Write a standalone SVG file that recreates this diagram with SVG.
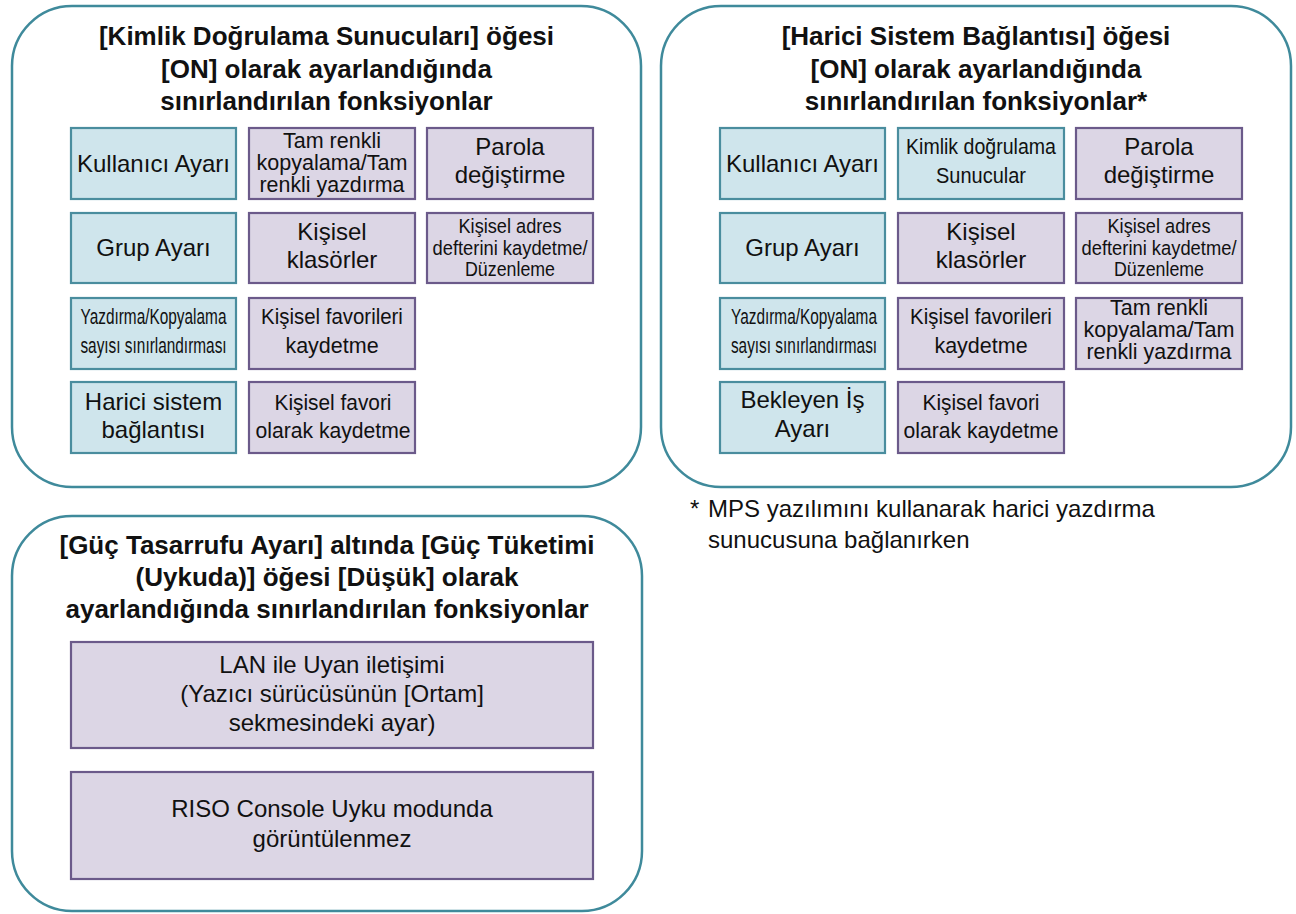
<svg xmlns="http://www.w3.org/2000/svg" width="1296" height="914" viewBox="0 0 1296 914">
<style>
.panel{fill:#ffffff;stroke:#3f8a9b;stroke-width:2.5}
.cy{fill:#cfe5ec;stroke:#4a8d9e;stroke-width:2.2}
.pu{fill:#dcd6e5;stroke:#6b5a8a;stroke-width:2.2}
text{font-family:"Liberation Sans",Arial,sans-serif;fill:#111;text-anchor:middle}
.t{font-size:26px;font-weight:bold}
.b{font-size:24px}
.m{font-size:21.5px}
.s{font-size:22px}
.a{font-size:20.5px}
.fn{font-size:24px;text-anchor:start}
</style>
<rect width="1296" height="914" fill="#ffffff"/>

<g id="panel-left">
<rect class="panel" x="12" y="6" width="629" height="481" rx="60" ry="60"/>
<text class="t" x="326.5" y="45">[Kimlik Doğrulama Sunucuları] öğesi</text>
<text class="t" x="326.5" y="78">[ON] olarak ayarlandığında</text>
<text class="t" x="326.5" y="110">sınırlandırılan fonksiyonlar</text>
</g>
<g id="L-kullanici"><rect class="cy" x="71" y="128" width="165" height="71"/><text class="b" x="153.5" y="172">Kullanıcı Ayarı</text></g>
<g id="L-tamrenkli"><rect class="pu" x="249" y="128" width="166" height="71"/><text class="m" x="332" y="148">Tam renkli</text><text class="m" x="332" y="170" textLength="151" lengthAdjust="spacingAndGlyphs">kopyalama/Tam</text><text class="m" x="332" y="192" textLength="145" lengthAdjust="spacingAndGlyphs">renkli yazdırma</text></g>
<g id="L-parola"><rect class="pu" x="427" y="128" width="166" height="71"/><text class="b" x="510" y="155">Parola</text><text class="b" x="510" y="183">değiştirme</text></g>
<g id="L-grup"><rect class="cy" x="71" y="213" width="165" height="70"/><text class="b" x="153.5" y="256">Grup Ayarı</text></g>
<g id="L-klasor"><rect class="pu" x="249" y="213" width="166" height="70"/><text class="b" x="332" y="240">Kişisel</text><text class="b" x="332" y="268">klasörler</text></g>
<g id="L-adres"><rect class="pu" x="427" y="213" width="166" height="70"/><text class="a" x="510" y="233" textLength="103" lengthAdjust="spacingAndGlyphs">Kişisel adres</text><text class="a" x="510" y="254.5" textLength="155" lengthAdjust="spacingAndGlyphs">defterini kaydetme/</text><text class="a" x="510" y="276" textLength="90" lengthAdjust="spacingAndGlyphs">Düzenleme</text></g>
<g id="L-yazdirma"><rect class="cy" x="71" y="298" width="165" height="71"/><g transform="translate(153.5,0) scale(0.7,1)"><text class="s" x="0" y="324">Yazdırma/Kopyalama</text><text class="s" x="0" y="353">sayısı sınırlandırması</text></g></g>
<g id="L-favorileri"><rect class="pu" x="249" y="298" width="166" height="71"/><g transform="translate(332,0) scale(0.95,1)"><text class="m" x="0" y="324">Kişisel favorileri</text></g><text class="m" x="332" y="353">kaydetme</text></g>
<g id="L-harici"><rect class="cy" x="71" y="382" width="165" height="71"/><text class="b" x="153.5" y="410">Harici sistem</text><text class="b" x="153.5" y="438">bağlantısı</text></g>
<g id="L-favori"><rect class="pu" x="249" y="382" width="166" height="71"/><text class="m" x="333" y="410" textLength="117" lengthAdjust="spacingAndGlyphs">Kişisel favori</text><text class="m" x="333" y="438" textLength="155" lengthAdjust="spacingAndGlyphs">olarak kaydetme</text></g>

<g id="panel-right">
<rect class="panel" x="661" y="6" width="630" height="481" rx="60" ry="60"/>
<text class="t" x="976" y="45">[Harici Sistem Bağlantısı] öğesi</text>
<text class="t" x="976" y="78">[ON] olarak ayarlandığında</text>
<text class="t" x="976" y="110">sınırlandırılan fonksiyonlar*</text>
</g>
<g id="R-kullanici"><rect class="cy" x="720" y="128" width="165" height="71"/><text class="b" x="802.5" y="172">Kullanıcı Ayarı</text></g>
<g id="R-kimlik"><rect class="cy" x="898" y="128" width="166" height="71"/><text class="s" x="981" y="154" textLength="150" lengthAdjust="spacingAndGlyphs">Kimlik doğrulama</text><text class="s" x="981" y="183" textLength="90" lengthAdjust="spacingAndGlyphs">Sunucular</text></g>
<g id="R-parola"><rect class="pu" x="1076" y="128" width="166" height="71"/><text class="b" x="1159" y="155">Parola</text><text class="b" x="1159" y="183">değiştirme</text></g>
<g id="R-grup"><rect class="cy" x="720" y="213" width="165" height="70"/><text class="b" x="802.5" y="256">Grup Ayarı</text></g>
<g id="R-klasor"><rect class="pu" x="898" y="213" width="166" height="70"/><text class="b" x="981" y="240">Kişisel</text><text class="b" x="981" y="268">klasörler</text></g>
<g id="R-adres"><rect class="pu" x="1076" y="213" width="166" height="70"/><text class="a" x="1159" y="233" textLength="103" lengthAdjust="spacingAndGlyphs">Kişisel adres</text><text class="a" x="1159" y="254.5" textLength="155" lengthAdjust="spacingAndGlyphs">defterini kaydetme/</text><text class="a" x="1159" y="276" textLength="90" lengthAdjust="spacingAndGlyphs">Düzenleme</text></g>
<g id="R-yazdirma"><rect class="cy" x="720" y="298" width="165" height="71"/><g transform="translate(804,0) scale(0.7,1)"><text class="s" x="0" y="324">Yazdırma/Kopyalama</text><text class="s" x="0" y="353">sayısı sınırlandırması</text></g></g>
<g id="R-favorileri"><rect class="pu" x="898" y="298" width="166" height="71"/><g transform="translate(981,0) scale(0.95,1)"><text class="m" x="0" y="324">Kişisel favorileri</text></g><text class="m" x="981" y="353">kaydetme</text></g>
<g id="R-tamrenkli"><rect class="pu" x="1076" y="298" width="166" height="71"/><text class="m" x="1159" y="315">Tam renkli</text><text class="m" x="1159" y="337" textLength="151" lengthAdjust="spacingAndGlyphs">kopyalama/Tam</text><text class="m" x="1159" y="359" textLength="145" lengthAdjust="spacingAndGlyphs">renkli yazdırma</text></g>
<g id="R-bekleyen"><rect class="cy" x="720" y="382" width="165" height="71"/><text class="b" x="802.5" y="408">Bekleyen İş</text><text class="b" x="802.5" y="437">Ayarı</text></g>
<g id="R-favori"><rect class="pu" x="898" y="382" width="166" height="71"/><text class="m" x="981" y="410" textLength="117" lengthAdjust="spacingAndGlyphs">Kişisel favori</text><text class="m" x="981" y="438" textLength="155" lengthAdjust="spacingAndGlyphs">olarak kaydetme</text></g>

<g id="footnote">
<text class="fn" x="690" y="517">*</text>
<text class="fn" x="708" y="517">MPS yazılımını kullanarak harici yazdırma</text>
<text class="fn" x="708" y="548">sunucusuna bağlanırken</text>
</g>

<g id="panel-bottom">
<rect class="panel" x="12" y="516" width="630" height="395" rx="60" ry="60"/>
<text class="t" x="327" y="554">[Güç Tasarrufu Ayarı] altında [Güç Tüketimi</text>
<text class="t" x="327" y="586">(Uykuda)] öğesi [Düşük] olarak</text>
<text class="t" x="327" y="618">ayarlandığında sınırlandırılan fonksiyonlar</text>
</g>
<g id="B-lan"><rect class="pu" x="71" y="642" width="522" height="106"/><text class="b" x="332" y="673">LAN ile Uyan iletişimi</text><text class="b" x="332" y="702">(Yazıcı sürücüsünün [Ortam]</text><text class="b" x="332" y="731">sekmesindeki ayar)</text></g>
<g id="B-riso"><rect class="pu" x="71" y="772" width="522" height="107"/><text class="b" x="332" y="817">RISO Console Uyku modunda</text><text class="b" x="332" y="847">görüntülenmez</text></g>

<g id="connectors"></g>
</svg>
